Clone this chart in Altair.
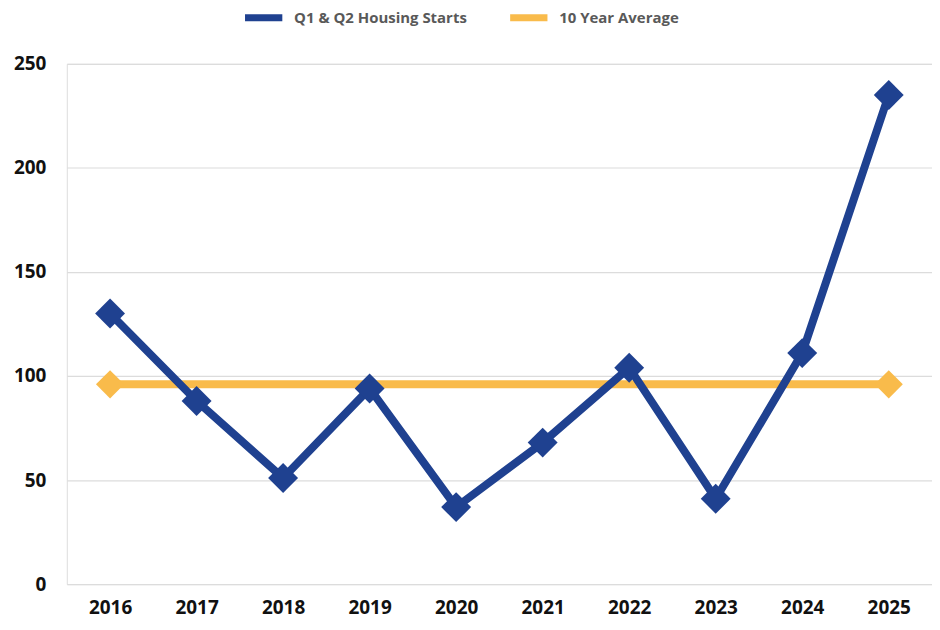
import altair as alt
import pandas as pd

years = ["2016", "2017", "2018", "2019", "2020", "2021", "2022", "2023", "2024", "2025"]
starts = [130, 88, 51, 94, 37, 68, 104, 41, 111, 235]
avg_years = ["2016", "2025"]
avg_values = [96, 96]

S1 = "Q1 & Q2 Housing Starts"
S2 = "10 Year Average"

df = pd.DataFrame({"year": years, "value": starts, "series": S1})
davg = pd.DataFrame({"year": avg_years, "value": avg_values, "series": S2})

color = alt.Color(
    "series:N",
    scale=alt.Scale(domain=[S1, S2], range=["#1f4190", "#f9bb4b"]),
    legend=alt.Legend(
        title=None, orient="none", direction="horizontal",
        legendX=175, legendY=-69, symbolType="stroke", symbolStrokeWidth=7,
        symbolSize=1400, labelFont="Open Sans", labelFontWeight="bold",
        labelFontSize=15, labelColor="#595959", columnPadding=28, labelOffset=8,
        labelLimit=400, padding=0,
    ),
)

x = alt.X("year:O", sort=years, title=None,
          scale=alt.Scale(type="point", padding=0.5),
          axis=alt.Axis(labelAngle=0, labelFont="Open Sans", labelFontWeight="bold",
                        labelFontSize=19, labelColor="#111111", domain=False,
                        ticks=False, labelPadding=14, grid=False))
y = alt.Y("value:Q", title=None,
          scale=alt.Scale(domain=[0, 250], nice=False),
          axis=alt.Axis(values=[0, 50, 100, 150, 200, 250], labelFont="Open Sans",
                        labelFontWeight="bold", labelFontSize=19, labelColor="#111111",
                        domain=False, ticks=False, labelPadding=21,
                        gridColor="#dcdcdc", gridWidth=1.2))

avg_line = alt.Chart(davg).mark_line(strokeWidth=8).encode(x=x, y=y, color=color)
avg_pts = alt.Chart(davg).mark_point(shape="diamond", filled=True, size=800, opacity=1).encode(x=x, y=y, color=color)
main_line = alt.Chart(df).mark_line(strokeWidth=8).encode(x=x, y=y, color=color)
main_pts = alt.Chart(df).mark_point(shape="diamond", filled=True, size=900, opacity=1).encode(x=x, y=y, color=color)

chart = alt.layer(avg_line, avg_pts, main_line, main_pts).properties(
    width=868, height=522,
    autosize=alt.AutoSizeParams(type="none"),
    padding={"left": 59, "top": 55, "right": 0, "bottom": 37},
).configure_view(stroke=None).configure(background="white")

chart.save("out.html", embed_options={"renderer": "svg", "actions": False})
